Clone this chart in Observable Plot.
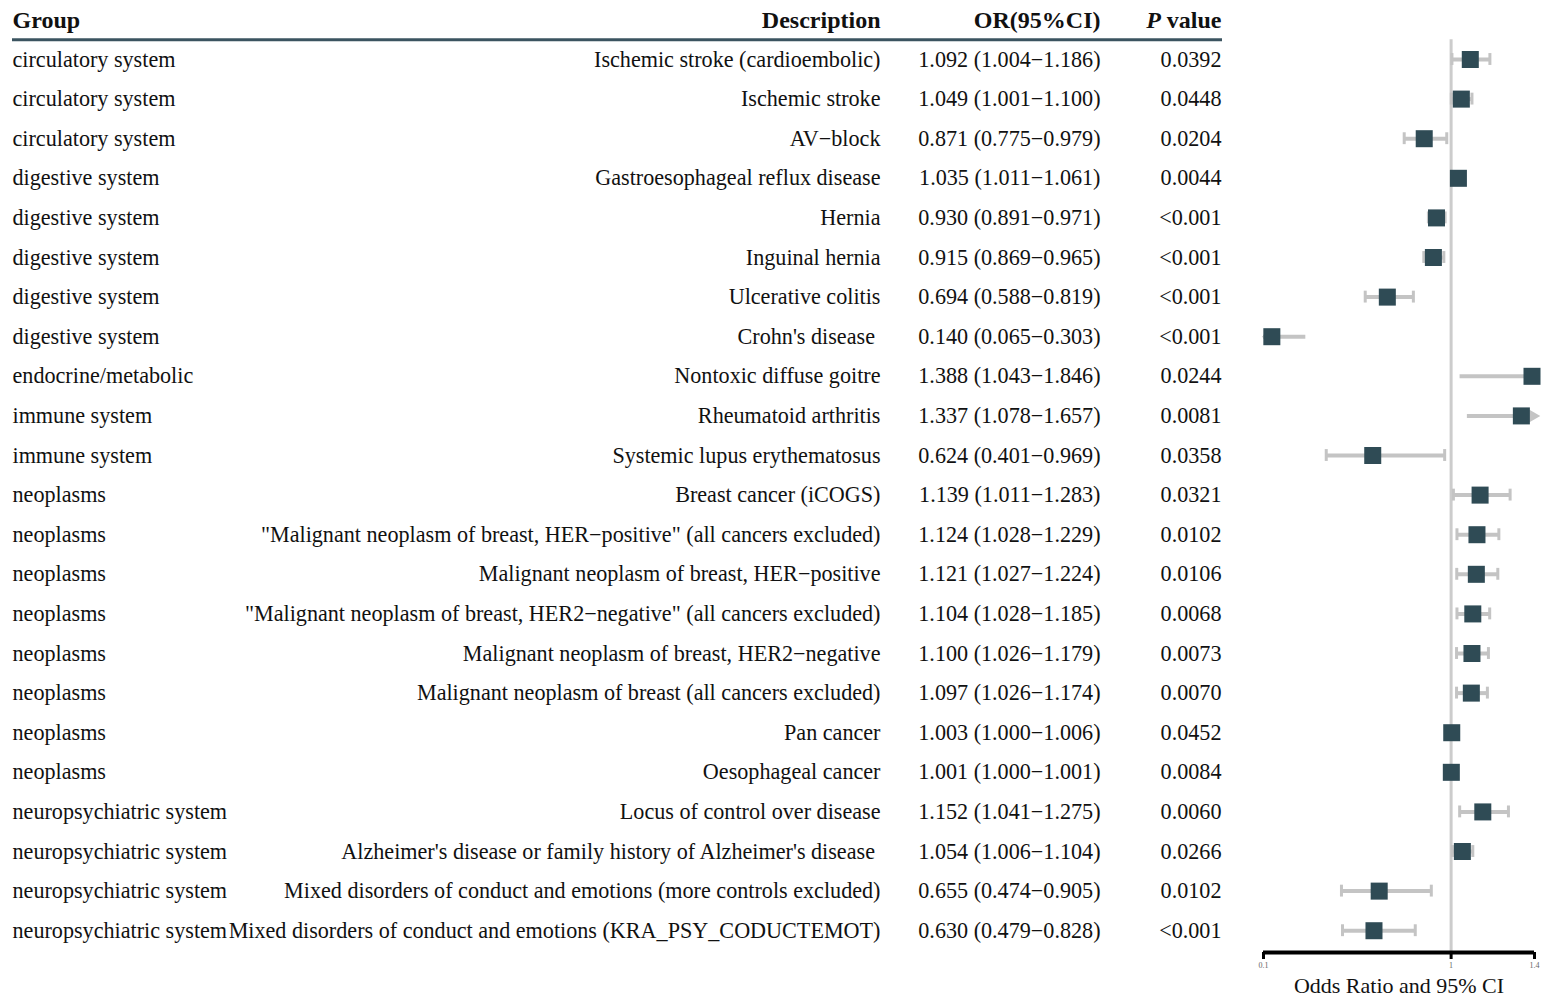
<!DOCTYPE html>
<html>
<head>
<meta charset="utf-8">
<script src="https://cdn.jsdelivr.net/npm/d3@7"></script>
<script src="https://cdn.jsdelivr.net/npm/@observablehq/plot@0.6"></script>
<style>
  html, body { margin: 0; padding: 0; background: #fff; }
  #chart { position: relative; width: 1544px; height: 1001px; font-family: "Liberation Serif", "Times New Roman", serif; }
  #chart svg { position: absolute; top: 0; overflow: visible; font-family: "Liberation Serif", "Times New Roman", serif; }
</style>
</head>
<body>
<div id="chart"></div>
<script>
// ---------------- data ----------------
const groups = [
  "circulatory system", "circulatory system", "circulatory system",
  "digestive system", "digestive system", "digestive system", "digestive system", "digestive system",
  "endocrine/metabolic",
  "immune system", "immune system",
  "neoplasms", "neoplasms", "neoplasms", "neoplasms", "neoplasms", "neoplasms", "neoplasms", "neoplasms",
  "neuropsychiatric system", "neuropsychiatric system", "neuropsychiatric system", "neuropsychiatric system"
];
const descriptions = [
  "Ischemic stroke (cardioembolic)",
  "Ischemic stroke",
  "AV\u2212block",
  "Gastroesophageal reflux disease",
  "Hernia",
  "Inguinal hernia",
  "Ulcerative colitis",
  "Crohn's disease\u00a0",
  "Nontoxic diffuse goitre",
  "Rheumatoid arthritis",
  "Systemic lupus erythematosus",
  "Breast cancer (iCOGS)",
  "\"Malignant neoplasm of breast, HER\u2212positive\" (all cancers excluded)",
  "Malignant neoplasm of breast, HER\u2212positive",
  "\"Malignant neoplasm of breast, HER2\u2212negative\" (all cancers excluded)",
  "Malignant neoplasm of breast, HER2\u2212negative",
  "Malignant neoplasm of breast (all cancers excluded)",
  "Pan cancer",
  "Oesophageal cancer",
  "Locus of control over disease",
  "Alzheimer's disease or family history of Alzheimer's disease\u00a0",
  "Mixed disorders of conduct and emotions (more controls excluded)",
  "Mixed disorders of conduct and emotions (KRA_PSY_CODUCTEMOT)"
];
const orValues = [1.092, 1.049, 0.871, 1.035, 0.930, 0.915, 0.694, 0.140, 1.388, 1.337, 0.624,
  1.139, 1.124, 1.121, 1.104, 1.100, 1.097, 1.003, 1.001, 1.152, 1.054, 0.655, 0.630];
const ciLower = [1.004, 1.001, 0.775, 1.011, 0.891, 0.869, 0.588, 0.065, 1.043, 1.078, 0.401,
  1.011, 1.028, 1.027, 1.028, 1.026, 1.026, 1.000, 1.000, 1.041, 1.006, 0.474, 0.479];
const ciUpper = [1.186, 1.100, 0.979, 1.061, 0.971, 0.965, 0.819, 0.303, 1.846, 1.657, 0.969,
  1.283, 1.229, 1.224, 1.185, 1.179, 1.174, 1.006, 1.001, 1.275, 1.104, 0.905, 0.828];
const pValues = ["0.0392", "0.0448", "0.0204", "0.0044", "<0.001", "<0.001", "<0.001", "<0.001",
  "0.0244", "0.0081", "0.0358", "0.0321", "0.0102", "0.0106", "0.0068", "0.0073", "0.0070",
  "0.0452", "0.0084", "0.0060", "0.0266", "0.0102", "<0.001"];
const headerLabels = ["Group", "Description", "OR(95%CI)", "P value"];
const axisTicks = [0.1, 1, 1.4];
const axisTitle = "Odds Ratio and 95% CI";
const xLimits = [0.1, 1.4];

// ---------------- table built from arrays ----------------
const rows = groups.map((g, i) => ({
  i, group: g, desc: descriptions[i], or: orValues[i], lo: ciLower[i], hi: ciUpper[i], p: pValues[i],
  orText: `${orValues[i].toFixed(3)} (${ciLower[i].toFixed(3)}\u2212${ciUpper[i].toFixed(3)})`
}));

// ---------------- layout (styling only) ----------------
const H = 1001;
const yScale = {domain: [-1, 22.55], range: [19.4, 952], axis: null};
const col = {group: 12, desc: 880, or: 1100, p: 1221, ruleEnd: 1222};
const bodySize = 22.15, headSize = 24;
const ink = "#111";
const slate = "#2f4b55";
const ciGray = "#c4c4c4";

// ---------------- table plot ----------------
const table = Plot.plot({
  width: 1240, height: H, margin: 0,
  x: {type: "identity", axis: null},
  y: yScale,
  marks: [
    Plot.text([headerLabels[0]], {x: col.group, y: -1, text: d => d, textAnchor: "start", fontSize: headSize, fontWeight: "bold", fill: ink}),
    Plot.text([headerLabels[1]], {x: col.desc, y: -1, text: d => d, textAnchor: "end", fontSize: headSize, fontWeight: "bold", fill: ink}),
    Plot.text([headerLabels[2]], {x: col.or, y: -1, text: d => d, textAnchor: "end", fontSize: headSize, fontWeight: "bold", fill: ink}),
    Plot.text([headerLabels[3]], {x: col.p, y: -1, text: d => d, textAnchor: "end", fontSize: headSize, fontWeight: "bold", fill: ink}),
    Plot.ruleY([-0.5], {x1: col.group, x2: col.ruleEnd, stroke: "#3b5460", strokeWidth: 3}),
    Plot.text(rows, {x: col.group, y: "i", text: "group", textAnchor: "start", fontSize: bodySize, fill: ink}),
    Plot.text(rows, {x: col.desc, y: "i", text: "desc", textAnchor: "end", fontSize: bodySize, fill: ink}),
    Plot.text(rows, {x: col.or, y: "i", text: "orText", textAnchor: "end", fontSize: bodySize, fill: ink}),
    Plot.text(rows, {x: col.p, y: "i", text: "p", textAnchor: "end", fontSize: bodySize, fill: ink})
  ]
});
table.style.left = "0px";
table.querySelectorAll("text").forEach(t => {
  if (t.textContent === "P value") {
    t.innerHTML = '<tspan font-style="italic">P</tspan><tspan> value</tspan>';
  }
});

// ---------------- forest plot ----------------
const clip = v => Math.max(xLimits[0], Math.min(xLimits[1], v));
const inRange = rows.filter(d => d.lo >= xLimits[0] && d.hi <= xLimits[1]);
const overHi = rows.filter(d => d.hi > xLimits[1]);
const underLo = rows.filter(d => d.lo < xLimits[0]);
const capHalf = 0.15;

const forest = Plot.plot({
  width: 304, height: H,
  marginLeft: 23, marginRight: 10, marginTop: 19.4, marginBottom: H - 952,
  x: {domain: xLimits, axis: null},
  y: yScale,
  marks: [
    Plot.ruleX([1], {y1: -0.5, y2: 22.55, stroke: "#cccccc", strokeWidth: 3}),
    Plot.ruleY(rows, {y: "i", x1: d => clip(d.lo), x2: d => clip(d.hi), stroke: ciGray, strokeWidth: 4}),
    Plot.ruleX(inRange, {x: "lo", y1: d => d.i - capHalf, y2: d => d.i + capHalf, stroke: ciGray, strokeWidth: 3}),
    Plot.ruleX(inRange, {x: "hi", y1: d => d.i - capHalf, y2: d => d.i + capHalf, stroke: ciGray, strokeWidth: 3}),
    Plot.dot(overHi, {x: () => xLimits[1], y: "i", symbol: "triangle", rotate: 90, r: 5, fill: ciGray, dx: -2}),
    Plot.dot(underLo, {x: () => xLimits[0], y: "i", symbol: "triangle", rotate: -90, r: 5, fill: ciGray, dx: 6}),
    Plot.dot(rows, {x: "or", y: "i", symbol: "square", r: 9.6, fill: slate}),
    Plot.ruleY([22.55], {x1: xLimits[0], x2: xLimits[1], stroke: "#000", strokeWidth: 4}),
    Plot.axisX({ticks: axisTicks, tickFormat: d => String(d), anchor: "bottom", tickSize: 7, strokeWidth: 3, stroke: "#000",
      tickPadding: 3, fontSize: 8, fill: "#666", label: null}),
    Plot.text([axisTitle], {frameAnchor: "bottom", dy: 40, text: d => d, fontSize: 22, fill: ink})
  ]
});
forest.style.left = "1240px";

const chart = document.getElementById("chart");
chart.appendChild(table);
chart.appendChild(forest);
</script>
</body>
</html>
